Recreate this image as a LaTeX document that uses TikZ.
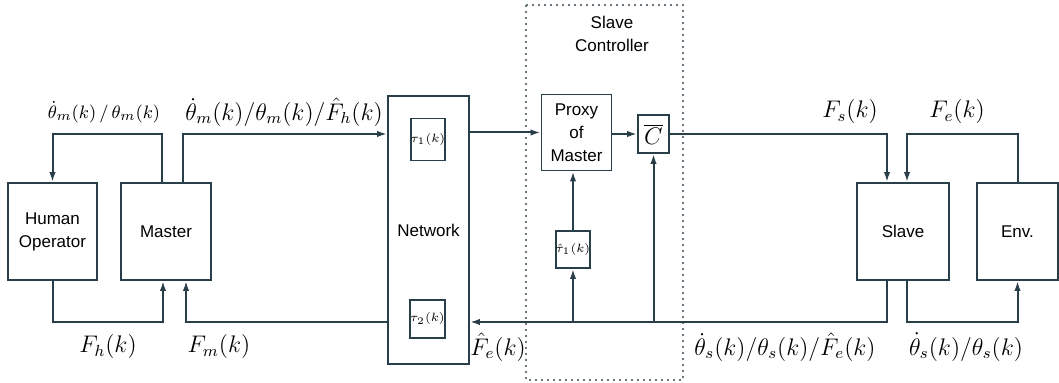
\documentclass[tikz,border=0pt]{standalone}
\usepackage{fontspec}
\setmainfont{Liberation Sans}
\usetikzlibrary{arrows.meta}
\definecolor{wire}{RGB}{40,62,72}

\begin{document}
\begin{tikzpicture}[x=0.5pt,y=-0.5pt,
    block/.style={draw=wire,line width=0.9pt,inner sep=0pt,align=center,font=\fontsize{8.5}{11.5}\selectfont},
    small/.style={draw=wire,line width=0.9pt,inner sep=0pt,font=\fontsize{6.5}{7}\selectfont},
    sig/.style={font=\fontsize{11.5}{13}\selectfont},
    arr/.style={-{Latex[length=5pt,width=3.2pt]},draw=wire,line width=1pt}]
    \useasboundingbox (0,0) rectangle (1059,383);
    \coordinate (ytop) at (0,134);
    \coordinate (ybot) at (0,322);
    % slave controller frame
    \draw [wire!70,dotted,line width=1pt] (526,5) rectangle (683,380);
    \node [align=center,font=\fontsize{8.5}{11.5}\selectfont] (ctrl) at (612,34) {Slave\\Controller};
    % blocks
    \node [block,minimum width=44.5pt,minimum height=48.5pt] (human) at (52.5,231.5) {Human\\Operator};
    \node [block,minimum width=45pt,minimum height=48.5pt] (master) at (166,231.5) {Master};
    \node [block,minimum width=40.5pt,minimum height=134pt] (net) at (428.5,230) {Network};
    \node [small,minimum width=15pt,minimum height=21pt] (tau1) at (428,139.5) {$\tau_1(k)$};
    \node [small,minimum width=15.5pt,minimum height=19pt] (tau2) at (427.5,319) {$\tau_2(k)$};
    \node [block,minimum width=35pt,minimum height=38pt] (proxy) at (576.5,132.5) {Proxy\\of\\Master};
    \node [small,sig,minimum width=15.5pt,minimum height=19pt] (cbar) at (653.5,134) {$\overline{C}$};
    \node [small,minimum width=15pt,minimum height=18.5pt] (tauh) at (573,249.5) {$\hat\tau_1(k)$};
    \node [block,minimum width=46pt,minimum height=48.5pt] (slave) at (903,231.5) {Slave};
    \node [block,minimum width=40.5pt,minimum height=48.5pt] (env) at (1017.5,231.5) {Env.};
    % connectors
    \draw [arr] ([xshift=-2pt]master.north) |- (ytop -| human.north) -- (human.north);
    \draw [arr] ([xshift=8.5pt]master.north) |- (ytop -| net.west);
    \draw [arr] (net.east |- proxy.west) -- (proxy.west);
    \draw [arr] (proxy.east |- cbar.west) -- (cbar.west);
    \draw [arr] (cbar.east) -| ([xshift=-8pt]slave.north);
    \draw [arr] (env.north) |- ([xshift=2pt]slave.north |- ytop) -- ([xshift=2pt]slave.north);
    \draw [arr] ([xshift=-8pt]slave.south) |- (ybot -| net.east);
    \draw [arr] ([xshift=2pt]slave.south) |- (ybot -| env.south) -- (env.south);
    \draw [arr] (human.south) |- ([xshift=-1.5pt]master.south |- ybot) -- ([xshift=-1.5pt]master.south);
    \draw [arr] (ybot -| net.west) -| ([xshift=10pt]master.south);
    \draw [arr] (ybot -| tauh.south) -- (tauh.south);
    \draw [arr] (tauh.north) -- (tauh.north |- proxy.south);
    \draw [arr] (ybot -| cbar.south) -- (cbar.south);
    % signal labels
    \node [font=\fontsize{9.5}{11}\selectfont] (thm) at (104,112) {$\dot\theta_m(k)\,/\,\theta_m(k)$};
    \node [sig] (thmf) at (284,112) {$\dot\theta_m(k)/\theta_m(k)/\hat F_h(k)$};
    \node [sig] (fs) at (850,112) {$F_s(k)$};
    \node [sig] (fe) at (957,112) {$F_e(k)$};
    \node [sig] (fh) at (108,347) {$F_h(k)$};
    \node [sig] (fm) at (219,347) {$F_m(k)$};
    \node [sig] (feh) at (498,347) {$\hat F_e(k)$};
    \node [sig] (thsf) at (785,347) {$\dot\theta_s(k)/\theta_s(k)/\hat F_e(k)$};
    \node [sig] (ths) at (966,347) {$\dot\theta_s(k)/\theta_s(k)$};
\end{tikzpicture}
\end{document}
